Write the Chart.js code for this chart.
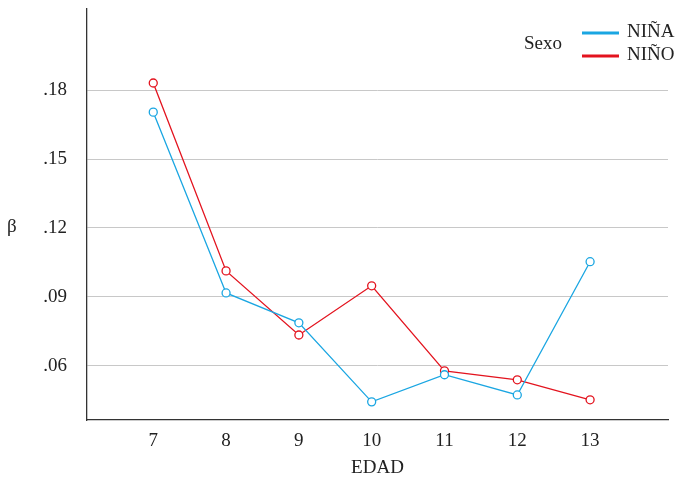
<!DOCTYPE html>
<html>
<head>
<meta charset="utf-8">
<script src="https://cdn.jsdelivr.net/npm/chart.js@4.4.0/dist/chart.umd.min.js"></script>
<style>
  html, body { margin: 0; padding: 0; background: #fff; }
  #wrap { width: 675px; height: 483px; }
</style>
</head>
<body>
<div id="wrap"><canvas id="chart"></canvas></div>
<script>
// ages on the x axis
const edades = [7, 8, 9, 10, 11, 12, 13];
// beta values
const nina = [0.1704, 0.0917, 0.0787, 0.0443, 0.0561, 0.0473, 0.1053];
const nino = [0.1831, 0.1013, 0.0734, 0.0948, 0.0578, 0.0539, 0.0452];
const yTicks = [0.06, 0.09, 0.12, 0.15, 0.18];
const seriesNames = ['NIÑA', 'NIÑO'];

const FONT = '"Liberation Serif", serif';
const FS = 19;
const colors = ['#1aa6e2', '#e3131e'];

function pts(vals) {
    return edades.map((e, i) => ({ x: e, y: vals[i] }));
}

// legend drawn at the top right, with "Sexo" as title, plus the unrotated β
const legendPlugin = {
    id: 'sexoLegend',
    afterDraw(chart) {
        const ctx = chart.ctx;
        ctx.save();
        ctx.font = FS + 'px ' + FONT;
        ctx.fillStyle = '#222';
        ctx.textBaseline = 'middle';
        ctx.fillText('β', 7, 227);
        ctx.fillText('Sexo', 524, 44);
        chart.data.datasets.forEach((ds, i) => {
            const y = 32 + i * 23;
            ctx.strokeStyle = ds.borderColor;
            ctx.lineWidth = 3;
            ctx.beginPath();
            ctx.moveTo(582, y + 1);
            ctx.lineTo(619, y + 1);
            ctx.stroke();
            ctx.fillStyle = '#222';
            ctx.fillText(ds.label, 627, y);
        });
        ctx.restore();
    }
};

const data = {
    datasets: [
        {
            label: seriesNames[0],
            data: pts(nina),
            borderColor: colors[0],
            backgroundColor: '#fff',
            borderWidth: 1.3,
            pointRadius: 4,
            pointBorderWidth: 1.3,
            pointBackgroundColor: '#fff'
        },
        {
            label: seriesNames[1],
            data: pts(nino),
            borderColor: colors[1],
            backgroundColor: '#fff',
            borderWidth: 1.3,
            pointRadius: 4,
            pointBorderWidth: 1.3,
            pointBackgroundColor: '#fff'
        }
    ]
};

const config = {
    type: 'line',
    data: data,
    plugins: [legendPlugin],
    options: {
        responsive: true,
        maintainAspectRatio: false,
        animation: false,
        layout: { padding: { left: 0, right: 7, top: 9, bottom: 0 } },
        plugins: {
            legend: { display: false },
            tooltip: { enabled: false }
        },
        scales: {
            x: {
                type: 'linear',
                min: 6.09,
                max: 14.07,
                afterBuildTicks: s => { s.ticks = edades.map(v => ({ value: v })); },
                afterFit: s => { s.height = 63; s.paddingLeft = 0; s.paddingRight = 0; },
                grid: { display: false, drawTicks: false },
                border: { display: true, color: '#333', width: 1.3 },
                ticks: { color: '#222', font: { family: FONT, size: FS }, padding: 10 },
                title: { display: true, text: 'EDAD', color: '#222', font: { family: FONT, size: FS }, padding: { top: 4 } }
            },
            y: {
                min: 0.0364,
                max: 0.2153,
                afterBuildTicks: s => { s.ticks = yTicks.map(v => ({ value: v })); },
                afterFit: s => { s.width = 87; s.paddingTop = 0; s.paddingBottom = 0; },
                grid: { color: '#c8c8c8', lineWidth: 1, drawTicks: false },
                border: { display: true, color: '#333', width: 1.3 },
                ticks: {
                    color: '#222',
                    font: { family: FONT, size: FS },
                    padding: 20,
                    callback: v => v.toFixed(2).replace(/^0/, '')
                }
            }
        }
    }
};

new Chart(document.getElementById('chart').getContext('2d'), config);
</script>
</body>
</html>
